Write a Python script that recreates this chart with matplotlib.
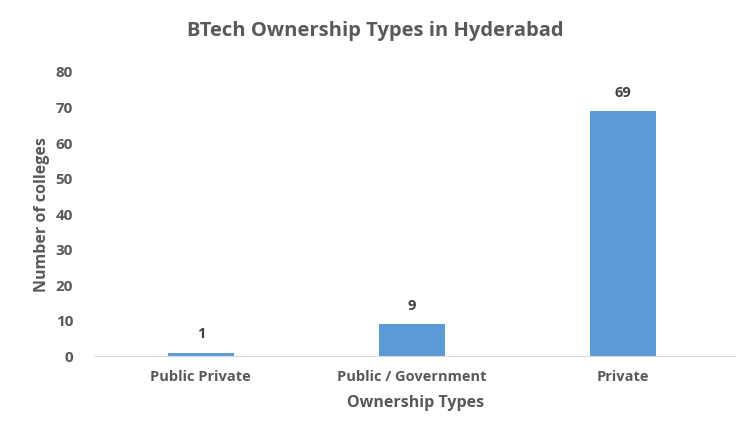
import matplotlib.pyplot as plt

categories = ['Public Private', 'Public / Government', 'Private']
counts = [1, 9, 69]
yticks = [0, 10, 20, 30, 40, 50, 60, 70, 80]

text_color = '#595959'
bar_color = '#5B9BD5'

plt.rcParams['font.family'] = ['Open Sans', 'DejaVu Sans']

fig = plt.figure(figsize=(7.5, 4.26), dpi=100)
ax = fig.add_axes([0.127, 0.164, 0.853, 0.667])

x = range(len(categories))
bars = ax.bar(x, counts, width=0.31, color=bar_color)
for xi, v in zip(x, counts):
    ax.annotate(str(v), (xi, v), textcoords='offset points', xytext=(0, 8),
                ha='center', va='bottom', fontsize=10.5, fontweight='bold', color='#404040')

ax.set_xlim(-0.5, 2.53)
ax.set_ylim(0, 80)
ax.set_yticks(yticks)
ax.set_xticks(list(x))
ax.set_xticklabels(categories, fontsize=10.5, fontweight='bold', color=text_color)
ax.tick_params(axis='y', labelsize=11, labelcolor=text_color, length=0, pad=16)
ax.tick_params(axis='x', length=0, pad=10)
for lbl in ax.get_yticklabels():
    lbl.set_fontweight('bold')

for s in ['top', 'right', 'left']:
    ax.spines[s].set_visible(False)
ax.spines['bottom'].set_color('#d9d9d9')

ax.set_xlabel('Ownership Types', fontsize=11.5, fontweight='bold', color=text_color, labelpad=8)
ax.set_ylabel('Number of colleges', fontsize=11.5, fontweight='bold', color=text_color, labelpad=4)
fig.suptitle('BTech Ownership Types in Hyderabad', fontsize=14.5, fontweight='bold',
             color=text_color, y=0.95)

fig.savefig('out.png', dpi=100)
